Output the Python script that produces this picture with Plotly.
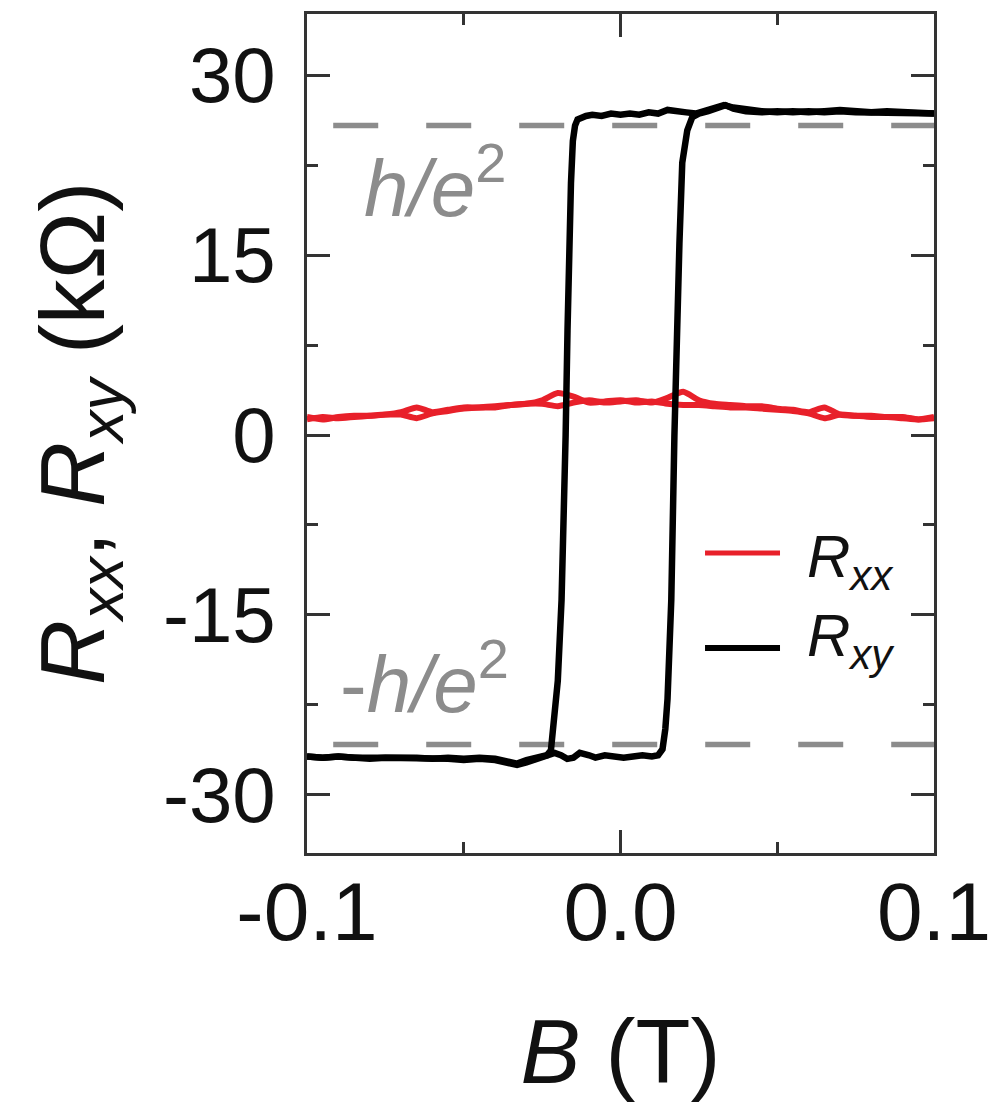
import plotly.graph_objects as go

# ---------------- data ----------------
H_E2 = 25.81  # h/e^2 in kOhm
hline_x = [-0.1213, 0.1]

# R_xy, down-sweep (B from +0.1 to -0.1)
B_dn = [0.100, 0.095, 0.090, 0.085, 0.080, 0.075, 0.070, 0.065, 0.060, 0.055,
        0.050, 0.045, 0.040, 0.036, 0.033, 0.030, 0.027, 0.024, 0.021, 0.018,
        0.015, 0.012, 0.009, 0.006, 0.003, 0.000, -0.003, -0.006, -0.009, -0.011,
        -0.0125, -0.0137, -0.0145, -0.0152, -0.0158, -0.0164, -0.0169, -0.0175, -0.0188, -0.0200,
        -0.0212, -0.0222, -0.0235, -0.027, -0.030, -0.033, -0.036, -0.040, -0.045, -0.050,
        -0.055, -0.060, -0.065, -0.070, -0.075, -0.080, -0.085, -0.090, -0.095, -0.100]
Rxy_dn = [26.8, 26.9, 26.9, 27.0, 26.9, 27.0, 27.1, 27.0, 26.9, 27.0,
          26.9, 27.0, 27.1, 27.3, 27.5, 27.3, 27.0, 26.8, 26.9, 27.0,
          27.1, 26.8, 26.9, 26.7, 26.8, 26.7, 26.8, 26.6, 26.7, 26.6,
          26.5, 26.3, 25.8, 24.5, 21.0, 16.0, 8.75, 0.0, -13.75, -20.5,
          -24.5, -26.3, -26.7, -26.9, -27.1, -27.4, -27.2, -27.0, -26.9, -27.0,
          -26.9, -27.0, -26.9, -26.9, -27.0, -26.9, -26.9, -26.8, -26.9, -26.8]

# R_xy, up-sweep (B from -0.1 to +0.1)
B_up = [-0.100, -0.095, -0.090, -0.085, -0.080, -0.075, -0.070, -0.065, -0.060, -0.055,
        -0.050, -0.045, -0.040, -0.036, -0.033, -0.030, -0.027, -0.024, -0.021, -0.019,
        -0.017, -0.015, -0.013, -0.010, -0.008, -0.005, -0.002, 0.001, 0.004, 0.007,
        0.010, 0.012, 0.0134, 0.0143, 0.0150, 0.0162, 0.0172, 0.0178, 0.0188, 0.0197,
        0.0213, 0.0229, 0.025, 0.028, 0.031, 0.0335, 0.036, 0.040, 0.045, 0.050,
        0.055, 0.060, 0.065, 0.070, 0.075, 0.080, 0.085, 0.090, 0.095, 0.100]
Rxy_up = [-26.8, -26.9, -26.8, -26.9, -27.0, -26.9, -26.9, -27.0, -26.9, -27.0,
          -27.1, -27.0, -27.1, -27.3, -27.5, -27.3, -27.0, -26.8, -26.5, -26.7,
          -27.0, -26.9, -26.5, -26.7, -26.9, -26.7, -26.8, -26.9, -26.8, -26.7,
          -26.8, -26.7, -26.2, -24.5, -22.0, -13.75, 0.0, 8.75, 16.0, 22.7,
          25.4, 26.5, 26.8, 27.0, 27.3, 27.5, 27.2, 27.0, 26.9, 27.0,
          26.9, 27.0, 26.9, 27.0, 26.9, 26.9, 26.8, 26.9, 26.8, 26.8]

# R_xx, two sweeps on a common field grid
B_xx = [-0.100, -0.095, -0.090, -0.085, -0.080, -0.075, -0.070, -0.065, -0.060, -0.055,
        -0.050, -0.045, -0.040, -0.035, -0.030, -0.025, -0.020, -0.015, -0.010, -0.005,
        0.000, 0.005, 0.010, 0.015, 0.020, 0.025, 0.030, 0.035, 0.040, 0.045,
        0.050, 0.055, 0.060, 0.065, 0.070, 0.075, 0.080, 0.085, 0.090, 0.095, 0.100]
Rxx_dn = [1.5, 1.3, 1.5, 1.6, 1.6, 1.7, 1.9, 2.3, 1.9, 2.1,
          2.3, 2.3, 2.4, 2.5, 2.6, 2.9, 3.5, 3.2, 2.7, 2.8,
          2.9, 2.7, 2.8, 2.6, 2.5, 2.5, 2.4, 2.3, 2.3, 2.2,
          2.1, 2.0, 1.8, 1.4, 1.7, 1.6, 1.5, 1.5, 1.4, 1.3, 1.4]
Rxx_up = [1.3, 1.5, 1.4, 1.5, 1.6, 1.7, 1.7, 1.4, 1.8, 2.0,
          2.2, 2.3, 2.3, 2.5, 2.6, 2.6, 2.4, 2.7, 2.9, 2.7,
          2.8, 2.9, 2.7, 3.1, 3.6, 2.9, 2.6, 2.5, 2.4, 2.4,
          2.2, 2.1, 1.9, 2.3, 1.7, 1.6, 1.6, 1.5, 1.5, 1.3, 1.5]

x_ticks = [-0.1, 0.0, 0.1]
x_ticktext = ["-0.1", "0.0", "0.1"]
y_ticks = [-30, -15, 0, 15, 30]
y_ticktext = ["-30", "-15", "0", "15", "30"]

RED = "#e8202a"
GRAY = "#8c8c8c"
INK = "#111"
FONT = "Liberation Sans, Arial, sans-serif"

fig = go.Figure()

# h/e^2 reference lines
for sgn in (1, -1):
    fig.add_trace(go.Scatter(x=hline_x, y=[sgn * H_E2] * 2, mode="lines",
                             line=dict(color=GRAY, width=5.5, dash="45px,48px"),
                             showlegend=False, hoverinfo="skip"))

fig.add_trace(go.Scatter(x=B_xx, y=Rxx_dn, mode="lines", name="R<sub>xx</sub>",
                         line=dict(color=RED, width=6, shape="spline", smoothing=0.6),
                         showlegend=False))
fig.add_trace(go.Scatter(x=B_xx, y=Rxx_up, mode="lines", name="R<sub>xx</sub>",
                         line=dict(color=RED, width=6, shape="spline", smoothing=0.6),
                         showlegend=False))
fig.add_trace(go.Scatter(x=B_dn, y=Rxy_dn, mode="lines", name="R<sub>xy</sub>",
                         line=dict(color="black", width=6.5), showlegend=False))
fig.add_trace(go.Scatter(x=B_up, y=Rxy_up, mode="lines", name="R<sub>xy</sub>",
                         line=dict(color="black", width=6.5), showlegend=False))

axis_common = dict(showline=True, linewidth=2.5, linecolor="#333", mirror="ticks",
                   ticks="inside", ticklen=23, tickwidth=2.5, tickcolor="#333",
                   showgrid=False, zeroline=False, automargin=False)

fig.update_xaxes(range=[-0.1, 0.1], tickvals=x_ticks, ticktext=x_ticktext,
                 tickfont=dict(size=82, color=INK, family=FONT),
                 ticklabelstandoff=-14,
                 minor=dict(tickvals=[-0.05, 0.05], ticklen=11, ticks="inside",
                            tickwidth=2.5, tickcolor="#333"),
                 title=dict(text="<i>B</i> (T)", font=dict(size=90, color=INK, family=FONT),
                            standoff=64),
                 **axis_common)
fig.update_yaxes(range=[-34.85, 35.1], tickvals=y_ticks, ticktext=y_ticktext,
                 tickfont=dict(size=78, color=INK, family=FONT),
                 ticklabelstandoff=13,
                 minor=dict(tickvals=[-22.5, -7.5, 7.5, 22.5], ticklen=11, ticks="inside",
                            tickwidth=2.5, tickcolor="#333"),
                 title=dict(text="<i>R</i><sub><i>xx</i></sub>, <i>R</i><sub><i>xy</i></sub> (kΩ)",
                            font=dict(size=90, color=INK, family=FONT), standoff=29),
                 **axis_common)

# legend drawn as layout items
fig.add_shape(type="line", xref="paper", yref="paper", x0=0.6348, x1=0.7544,
              y0=0.3576, y1=0.3576, line=dict(color=RED, width=5))
fig.add_shape(type="line", xref="paper", yref="paper", x0=0.6348, x1=0.7544,
              y0=0.2443, y1=0.2443, line=dict(color="black", width=6))
fig.add_annotation(xref="paper", yref="paper", x=0.7935, y=0.348, xanchor="left",
                   yanchor="middle", showarrow=False, text="<i>R</i><sub><i>xx</i></sub>",
                   font=dict(size=60, color=INK, family=FONT))
fig.add_annotation(xref="paper", yref="paper", x=0.7935, y=0.254, xanchor="left",
                   yanchor="middle", showarrow=False, text="<i>R</i><sub><i>xy</i></sub>",
                   font=dict(size=60, color=INK, family=FONT))

# h/e^2 labels
fig.add_annotation(xref="paper", yref="paper", x=0.087, y=0.8, xanchor="left",
                   yanchor="middle", showarrow=False, text="<i>h/e</i><sup>2</sup>",
                   font=dict(size=80, color=GRAY, family=FONT))
fig.add_annotation(xref="paper", yref="paper", x=0.049, y=0.209, xanchor="left",
                   yanchor="middle", showarrow=False, text="-<i>h/e</i><sup>2</sup>",
                   font=dict(size=80, color=GRAY, family=FONT))

fig.update_layout(width=995, height=1110, margin=dict(l=307, r=61, t=14, b=257),
                  paper_bgcolor="white", plot_bgcolor="white", showlegend=False,
                  font=dict(family=FONT))

fig.write_html("out.html", config={"displayModeBar": False},
               post_script="document.body.style.margin='0';document.body.style.padding='0';")
